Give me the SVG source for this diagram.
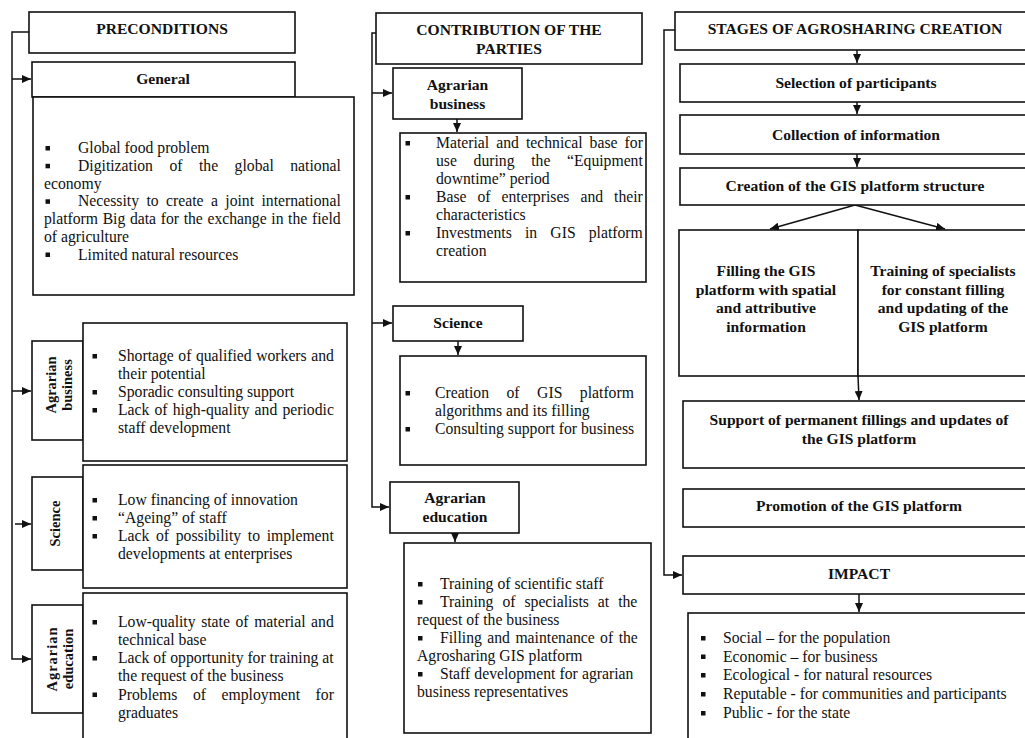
<svg xmlns="http://www.w3.org/2000/svg" width="1025" height="738" viewBox="0 0 1025 738">
<defs>
<style>
.box{fill:#fff;stroke:#111;stroke-width:1.6}
.ln{fill:none;stroke:#111;stroke-width:1.5}
.h{font-family:"Liberation Serif","Times New Roman",serif;font-weight:bold;font-size:15.6px;text-anchor:middle;fill:#111}
.v{font-family:"Liberation Serif","Times New Roman",serif;font-weight:bold;font-size:14.5px;text-anchor:middle;fill:#111}
.t{font-family:"Liberation Serif","Times New Roman",serif;font-size:15.7px;fill:#111}
.bu{fill:#111}
</style>
<marker id="ah" markerUnits="userSpaceOnUse" markerWidth="9" markerHeight="8" refX="9" refY="4" orient="auto">
<path d="M0,0 L9,4 L0,8 z" fill="#111"/>
</marker>
</defs>
<rect width="1025" height="738" fill="#fff"/>

<g id="connectors">
<polyline class="ln" points="29,32 12,32 12,659 31,659" marker-end="url(#ah)"/>
<line class="ln" x1="12" y1="79" x2="31" y2="79" marker-end="url(#ah)"/>
<line class="ln" x1="12" y1="391" x2="31" y2="391" marker-end="url(#ah)"/>
<line class="ln" x1="15" y1="524" x2="31" y2="524" marker-end="url(#ah)"/>
<polyline class="ln" points="376,33 372,33 372,507 389,507" marker-end="url(#ah)"/>
<line class="ln" x1="372" y1="93" x2="392" y2="93" marker-end="url(#ah)"/>
<line class="ln" x1="372" y1="323" x2="392" y2="323" marker-end="url(#ah)"/>
<line class="ln" x1="457" y1="119" x2="457" y2="132" marker-end="url(#ah)"/>
<line class="ln" x1="458" y1="341" x2="458" y2="355" marker-end="url(#ah)"/>
<line class="ln" x1="455" y1="533" x2="455" y2="542" marker-end="url(#ah)"/>
<polyline class="ln" points="675,30 664,30 664,575 682,575" marker-end="url(#ah)"/>
<line class="ln" x1="857" y1="50" x2="857" y2="63" marker-end="url(#ah)"/>
<line class="ln" x1="857" y1="102" x2="857" y2="114" marker-end="url(#ah)"/>
<line class="ln" x1="857" y1="154" x2="857" y2="167" marker-end="url(#ah)"/>
<line class="ln" x1="855" y1="205" x2="770" y2="229" marker-end="url(#ah)"/>
<line class="ln" x1="855" y1="205" x2="945" y2="229" marker-end="url(#ah)"/>
<line class="ln" x1="858" y1="376" x2="859" y2="400" marker-end="url(#ah)"/>
<line class="ln" x1="859" y1="594" x2="859" y2="612" marker-end="url(#ah)"/>
</g>

<g id="preconditions">
<rect class="box" x="29" y="12" width="266" height="41"/>
<text class="h" x="162" y="34">PRECONDITIONS</text>
</g>

<g id="general">
<rect class="box" x="32" y="62" width="263" height="35"/>
<text class="h" x="163" y="84">General</text>
</g>

<g id="general-content">
<rect class="box" x="33" y="97" width="321" height="198"/>
<rect class="bu" x="45.5" y="146" width="4.5" height="4.5"/>
<rect class="bu" x="45.5" y="163.8" width="4.5" height="4.5"/>
<rect class="bu" x="45.5" y="199.3" width="4.5" height="4.5"/>
<rect class="bu" x="45.5" y="252.5" width="4.5" height="4.5"/>
<text class="t" x="78" y="153">Global food problem</text>
<text class="t" x="78" y="170.8" word-spacing="12.55">Digitization of the global national</text>
<text class="t" x="44" y="188.5">economy</text>
<text class="t" x="78" y="206.3" word-spacing="3.5">Necessity to create a joint international</text>
<text class="t" x="44" y="224" word-spacing="0.71">platform Big data for the exchange in the field</text>
<text class="t" x="44" y="241.8">of agriculture</text>
<text class="t" x="78" y="259.5">Limited natural resources</text>
</g>

<g id="pre-agrarian-business">
<rect class="box" x="32" y="341" width="51" height="99"/>
<text class="v" transform="translate(56,385) rotate(-90)">Agrarian</text>
<text class="v" transform="translate(72,385) rotate(-90)">business</text>
</g>

<g id="pre-agrarian-business-content">
<rect class="box" x="83" y="323" width="264" height="138"/>
<rect class="bu" x="92.5" y="354" width="4.5" height="4.5"/>
<rect class="bu" x="92.5" y="390" width="4.5" height="4.5"/>
<rect class="bu" x="92.5" y="408" width="4.5" height="4.5"/>
<text class="t" x="118" y="361" word-spacing="0.6">Shortage of qualified workers and</text>
<text class="t" x="118" y="379">their potential</text>
<text class="t" x="118" y="397">Sporadic consulting support</text>
<text class="t" x="118" y="415" word-spacing="1.25">Lack of high-quality and periodic</text>
<text class="t" x="118" y="433">staff development</text>
</g>

<g id="pre-science">
<rect class="box" x="32" y="477" width="51" height="93"/>
<text class="v" transform="translate(60,523.5) rotate(-90)">Science</text>
</g>

<g id="pre-science-content">
<rect class="box" x="83" y="465" width="264" height="123"/>
<rect class="bu" x="92.5" y="498" width="4.5" height="4.5"/>
<rect class="bu" x="92.5" y="516" width="4.5" height="4.5"/>
<rect class="bu" x="92.5" y="534" width="4.5" height="4.5"/>
<text class="t" x="118" y="505">Low financing of innovation</text>
<text class="t" x="118" y="523">“Ageing” of staff</text>
<text class="t" x="118" y="541" word-spacing="2.75">Lack of possibility to implement</text>
<text class="t" x="118" y="559">developments at enterprises</text>
</g>

<g id="pre-agrarian-education">
<rect class="box" x="32" y="605" width="51" height="108"/>
<text class="v" transform="translate(57,659) rotate(-90)" letter-spacing="1">Agrarian</text>
<text class="v" transform="translate(73,659) rotate(-90)">education</text>
</g>

<g id="pre-agrarian-education-content">
<rect class="box" x="83" y="593" width="264" height="160"/>
<rect class="bu" x="92.5" y="620" width="4.5" height="4.5"/>
<rect class="bu" x="92.5" y="656" width="4.5" height="4.5"/>
<rect class="bu" x="92.5" y="692.5" width="4.5" height="4.5"/>
<text class="t" x="118" y="627" word-spacing="1.67">Low-quality state of material and</text>
<text class="t" x="118" y="645">technical base</text>
<text class="t" x="118" y="663">Lack of opportunity for training at</text>
<text class="t" x="118" y="681">the request of the business</text>
<text class="t" x="118" y="699.5" word-spacing="11.7">Problems of employment for</text>
<text class="t" x="118" y="717.5">graduates</text>
</g>

<g id="contribution">
<rect class="box" x="376" y="13" width="266" height="51"/>
<text class="h" x="509" y="34.5">CONTRIBUTION OF THE</text>
<text class="h" x="509" y="54">PARTIES</text>
</g>

<g id="con-agrarian-business">
<rect class="box" x="393" y="68" width="129" height="51"/>
<text class="h" x="457.5" y="90">Agrarian</text>
<text class="h" x="457.5" y="108.5">business</text>
</g>

<g id="con-agrarian-business-content">
<rect class="box" x="400" y="133" width="246" height="149"/>
<rect class="bu" x="405.5" y="141" width="4.5" height="4.5"/>
<rect class="bu" x="405.5" y="195" width="4.5" height="4.5"/>
<rect class="bu" x="405.5" y="231" width="4.5" height="4.5"/>
<text class="t" x="436" y="148" word-spacing="3.15">Material and technical base for</text>
<text class="t" x="436" y="166" word-spacing="12.74">use during the “Equipment</text>
<text class="t" x="436" y="184">downtime” period</text>
<text class="t" x="436" y="202" word-spacing="7.05">Base of enterprises and their</text>
<text class="t" x="436" y="220">characteristics</text>
<text class="t" x="436" y="238" word-spacing="9.24">Investments in GIS platform</text>
<text class="t" x="436" y="256">creation</text>
</g>

<g id="con-science">
<rect class="box" x="393" y="306" width="130" height="35"/>
<text class="h" x="458" y="328">Science</text>
</g>

<g id="con-science-content">
<rect class="box" x="400" y="356" width="246" height="109"/>
<rect class="bu" x="405.5" y="391" width="4.5" height="4.5"/>
<rect class="bu" x="405.5" y="427" width="4.5" height="4.5"/>
<text class="t" x="435" y="398" word-spacing="13.58">Creation of GIS platform</text>
<text class="t" x="435" y="416">algorithms and its filling</text>
<text class="t" x="435" y="434">Consulting support for business</text>
</g>

<g id="con-agrarian-education">
<rect class="box" x="390" y="482" width="129" height="51"/>
<text class="h" x="455" y="502.5">Agrarian</text>
<text class="h" x="455" y="522">education</text>
</g>

<g id="con-agrarian-education-content">
<rect class="box" x="404" y="543" width="247" height="190"/>
<rect class="bu" x="418" y="582" width="4.5" height="4.5"/>
<rect class="bu" x="418" y="600" width="4.5" height="4.5"/>
<rect class="bu" x="418" y="636" width="4.5" height="4.5"/>
<rect class="bu" x="418" y="672" width="4.5" height="4.5"/>
<text class="t" x="440" y="589">Training of scientific staff</text>
<text class="t" x="440" y="607" word-spacing="5.03">Training of specialists at the</text>
<text class="t" x="417" y="625">request of the business</text>
<text class="t" x="440" y="643" word-spacing="1.53">Filling and maintenance of the</text>
<text class="t" x="417" y="661">Agrosharing GIS platform</text>
<text class="t" x="440" y="679" word-spacing="0.23">Staff development for agrarian</text>
<text class="t" x="417" y="697">business representatives</text>
</g>

<g id="stages">
<rect class="box" x="675" y="12" width="362" height="38"/>
<text class="h" x="855" y="34">STAGES OF AGROSHARING CREATION</text>
</g>

<g id="selection">
<rect class="box" x="680" y="64" width="357" height="38"/>
<text class="h" x="856" y="87.5">Selection of participants</text>
</g>

<g id="collection">
<rect class="box" x="680" y="115" width="357" height="39"/>
<text class="h" x="856" y="139.5">Collection of information</text>
</g>

<g id="creation">
<rect class="box" x="680" y="168" width="357" height="37"/>
<text class="h" x="855" y="191">Creation of the GIS platform structure</text>
</g>

<g id="filling">
<rect class="box" x="679" y="230" width="179" height="146"/>
<text class="h" x="766" y="276">Filling the GIS</text>
<text class="h" x="766" y="294.7">platform with spatial</text>
<text class="h" x="766" y="313.4">and attributive</text>
<text class="h" x="766" y="332">information</text>
</g>

<g id="training">
<rect class="box" x="858" y="230" width="179" height="146"/>
<text class="h" x="943" y="276">Training of specialists</text>
<text class="h" x="943" y="294.7">for constant filling</text>
<text class="h" x="943" y="313.4">and updating of the</text>
<text class="h" x="943" y="332">GIS platform</text>
</g>

<g id="support">
<rect class="box" x="683" y="401" width="354" height="67"/>
<text class="h" x="859" y="425">Support of permanent fillings and updates of</text>
<text class="h" x="859" y="444">the GIS platform</text>
</g>

<g id="promotion">
<rect class="box" x="683" y="489" width="354" height="38"/>
<text class="h" x="859" y="510.5">Promotion of the GIS platform</text>
</g>

<g id="impact">
<rect class="box" x="683" y="556" width="354" height="38"/>
<text class="h" x="859" y="579">IMPACT</text>
</g>

<g id="impact-content">
<rect class="box" x="688" y="613" width="349" height="140"/>
<rect class="bu" x="701" y="636" width="4.5" height="4.5"/>
<rect class="bu" x="701" y="654.5" width="4.5" height="4.5"/>
<rect class="bu" x="701" y="673" width="4.5" height="4.5"/>
<rect class="bu" x="701" y="692" width="4.5" height="4.5"/>
<rect class="bu" x="701" y="711" width="4.5" height="4.5"/>
<text class="t" x="723" y="643">Social – for the population</text>
<text class="t" x="723" y="661.5">Economic – for business</text>
<text class="t" x="723" y="680">Ecological - for natural resources</text>
<text class="t" x="723" y="699">Reputable - for communities and participants</text>
<text class="t" x="723" y="718">Public - for the state</text>
</g>
</svg>
